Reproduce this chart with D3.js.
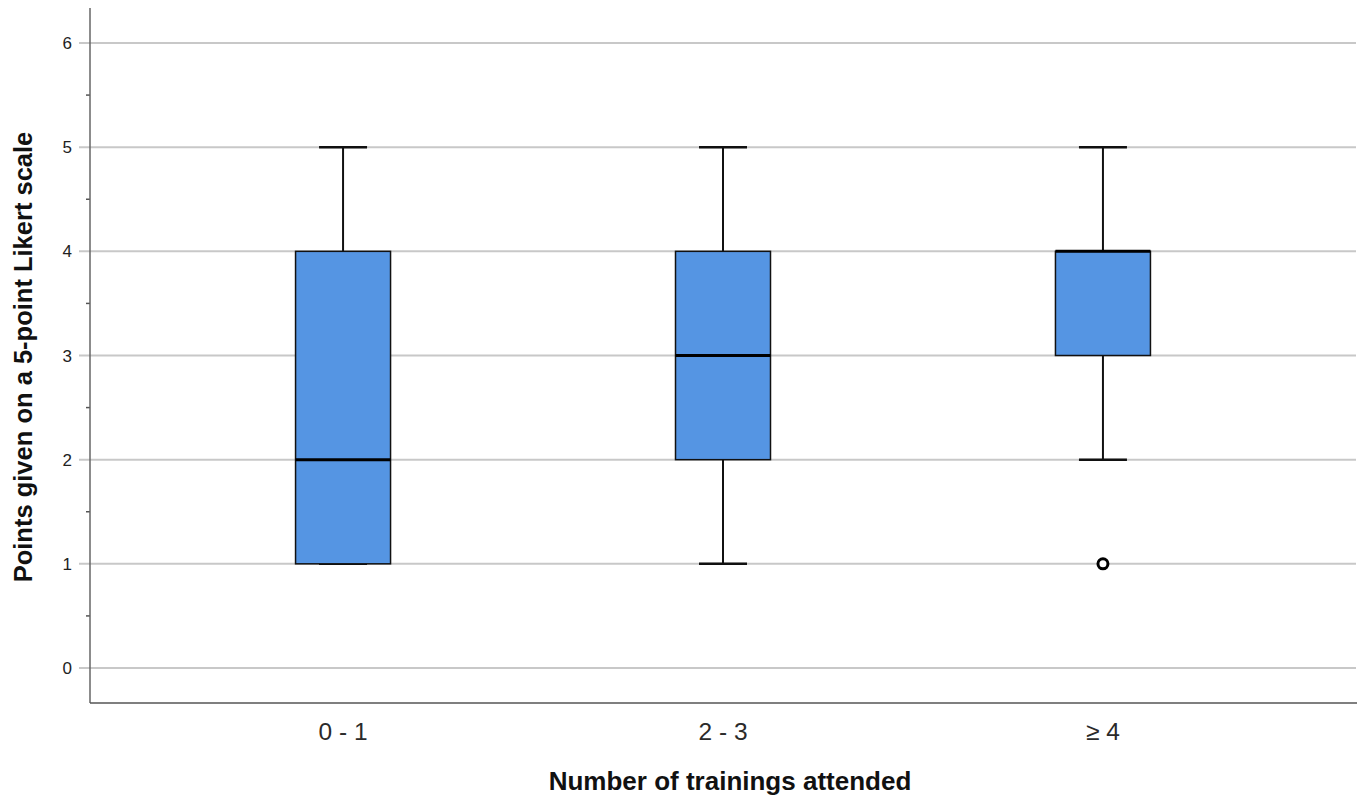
<!DOCTYPE html>
<html><head><meta charset="utf-8">
<script src="https://cdn.jsdelivr.net/npm/d3@7"></script>
<style>body{margin:0;background:#fff}svg{display:block}</style>
</head><body>
<svg id="c" width="1359" height="795"></svg>
<script>
const categories = ["0 - 1", "2 - 3", "\u2265 4"];
const whiskerLow = [1, 1, 2];
const q1 = [1, 2, 3];
const median = [2, 3, 4];
const q3 = [4, 4, 4];
const whiskerHigh = [5, 5, 5];
const outliers = [[], [], [1]];
const yTicks = [0, 1, 2, 3, 4, 5, 6];
const yMinorTicks = [0.5, 1.5, 2.5, 3.5, 4.5, 5.5];

(function () {
const svg = d3.select("#c");
const mLeft = 90, mRight = 1357, mTop = 8, mBottom = 703;
const y = d3.scaleLinear().domain([0, 6]).range([668, 43]);
const x = d3.scalePoint().domain(categories).range([mLeft, 1356]).padding(0.666);
const font = "Liberation Sans, Arial, sans-serif";

svg.append("g").selectAll("line").data(yTicks).join("line")
  .attr("x1", 79).attr("x2", 1356)
  .attr("y1", d => y(d)).attr("y2", d => y(d))
  .attr("stroke", "#c8c8c8").attr("stroke-width", 2);

svg.append("g").selectAll("line").data(yMinorTicks).join("line")
  .attr("x1", 86).attr("x2", mLeft)
  .attr("y1", d => y(d)).attr("y2", d => y(d))
  .attr("stroke", "#555").attr("stroke-width", 1.5);

svg.append("line").attr("x1", mLeft).attr("x2", mLeft).attr("y1", mTop).attr("y2", mBottom)
  .attr("stroke", "#666").attr("stroke-width", 1.5);
svg.append("line").attr("x1", mLeft).attr("x2", mRight).attr("y1", mBottom).attr("y2", mBottom)
  .attr("stroke", "#555").attr("stroke-width", 1.5);

svg.append("g").selectAll("text").data(yTicks).join("text")
  .attr("x", 72).attr("y", d => y(d)).attr("dy", "0.36em")
  .attr("text-anchor", "end")
  .attr("font-family", font).attr("font-size", 17)
  .attr("fill", "#222").text(d => d);

svg.append("g").selectAll("text").data(categories).join("text")
  .attr("x", d => x(d)).attr("y", 740)
  .attr("text-anchor", "middle")
  .attr("font-family", font).attr("font-size", 24.5)
  .attr("fill", "#2a2a2a").text(d => d);

const boxW = 95, capW = 48;
const g = svg.append("g");
categories.forEach((c, i) => {
  const cx = x(c);
  g.append("line").attr("x1", cx).attr("x2", cx).attr("y1", y(q3[i])).attr("y2", y(whiskerHigh[i]))
    .attr("stroke", "#111").attr("stroke-width", 2);
  g.append("line").attr("x1", cx).attr("x2", cx).attr("y1", y(q1[i])).attr("y2", y(whiskerLow[i]))
    .attr("stroke", "#111").attr("stroke-width", 2);
  g.append("line").attr("x1", cx - capW/2).attr("x2", cx + capW/2).attr("y1", y(whiskerHigh[i])).attr("y2", y(whiskerHigh[i]))
    .attr("stroke", "#111").attr("stroke-width", 2.5);
  g.append("line").attr("x1", cx - capW/2).attr("x2", cx + capW/2).attr("y1", y(whiskerLow[i])).attr("y2", y(whiskerLow[i]))
    .attr("stroke", "#111").attr("stroke-width", 2.5);
  g.append("rect").attr("x", cx - boxW/2).attr("width", boxW)
    .attr("y", y(q3[i])).attr("height", y(q1[i]) - y(q3[i]))
    .attr("fill", "#5595e3").attr("stroke", "#111").attr("stroke-width", 1.5);
  g.append("line").attr("x1", cx - boxW/2).attr("x2", cx + boxW/2).attr("y1", y(median[i])).attr("y2", y(median[i]))
    .attr("stroke", "#000").attr("stroke-width", 3);
  outliers[i].forEach(v => {
    g.append("circle").attr("cx", cx).attr("cy", y(v)).attr("r", 5)
      .attr("fill", "#fff").attr("stroke", "#000").attr("stroke-width", 3);
  });
});

svg.append("text").attr("x", 730).attr("y", 790).attr("text-anchor", "middle")
  .attr("font-family", font).attr("font-size", 26).attr("font-weight", "bold")
  .attr("fill", "#111").text("Number of trainings attended");
svg.append("text").attr("transform", "translate(32,357) rotate(-90)").attr("text-anchor", "middle")
  .attr("font-family", font).attr("font-size", 25.5).attr("font-weight", "bold")
  .attr("fill", "#111").text("Points given on a 5-point Likert scale");
})();
</script>
</body></html>
